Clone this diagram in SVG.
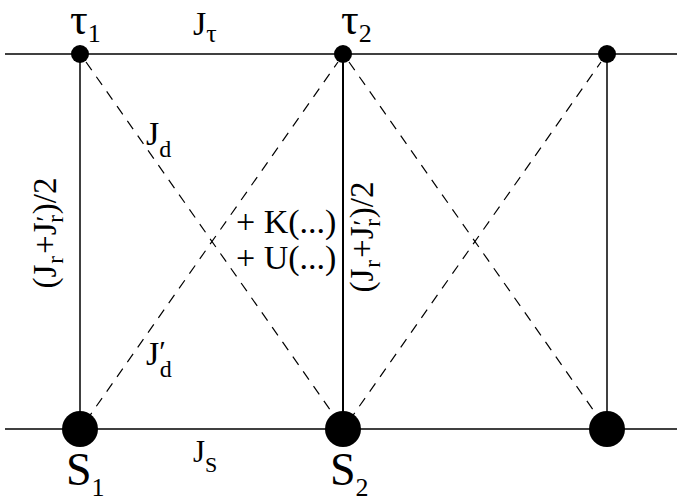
<svg xmlns="http://www.w3.org/2000/svg" width="677" height="503" viewBox="0 0 677 503">
<style>
.ln{stroke:#000;stroke-width:1.5;fill:none}
.ds{stroke:#000;stroke-width:1.2;stroke-dasharray:10,8;fill:none}
text{font-family:'Liberation Serif','DejaVu Serif',serif;fill:#000}
.nd{fill:#000}
</style>
<rect width="677" height="503" fill="#fff"/>
<g id="connectors">
<line class="ln" x1="5" y1="54" x2="677" y2="54"/>
<line class="ln" x1="5" y1="429" x2="677" y2="429"/>
<line class="ln" x1="80" y1="54" x2="80" y2="429"/>
<line class="ln" x1="343" y1="54" x2="343" y2="429" style="stroke-width:2"/>
<line class="ln" x1="607" y1="54" x2="607" y2="429"/>
<line class="ds" x1="86" y1="62" x2="338" y2="421"/>
<line class="ds" x1="86" y1="421" x2="338" y2="62"/>
<line class="ds" x1="349" y1="62" x2="601" y2="421"/>
<line class="ds" x1="349" y1="421" x2="601" y2="62"/>
</g>
<g id="tau1"><circle class="nd" cx="80" cy="54" r="9"/><text x="70" y="34" font-size="44">τ<tspan font-size="26" dy="8">1</tspan></text></g>
<g id="tau2"><circle class="nd" cx="343" cy="54" r="9"/><text x="341" y="34" font-size="44">τ<tspan font-size="26" dy="8">2</tspan></text></g>
<g id="tau3"><circle class="nd" cx="607" cy="54" r="9"/></g>
<g id="S1"><circle class="nd" cx="80" cy="429" r="18"/><text x="66" y="485" font-size="46">S<tspan font-size="26" dy="11">1</tspan></text></g>
<g id="S2"><circle class="nd" cx="343" cy="429" r="18"/><text x="330" y="485" font-size="46">S<tspan font-size="26" dy="11">2</tspan></text></g>
<g id="S3"><circle class="nd" cx="607" cy="429" r="18"/></g>
<g id="labels">
<text x="193" y="35" font-size="34">J<tspan font-size="26" dy="7">τ</tspan></text>
<text x="193" y="462" font-size="31">J<tspan font-size="22" dy="10">S</tspan></text>
<text x="146" y="145" font-size="34">J<tspan font-size="24" dy="12">d</tspan></text>
<text x="146" y="365" font-size="34">J<tspan font-size="30" dy="-4">′</tspan><tspan font-size="24" dx="-6" dy="16">d</tspan></text>
<text x="236" y="233" font-size="34">+ K(...)</text>
<text x="236" y="269" font-size="34">+ U(...)</text>
<text transform="translate(56,233) rotate(-90)" text-anchor="middle" font-size="33">(J<tspan font-size="23" dx="1" dy="7">r</tspan><tspan dx="2" dy="-7">+J</tspan><tspan font-size="26" dx="1" dy="-2">′</tspan><tspan font-size="23" dx="-7" dy="9">r</tspan><tspan dx="1" dy="-7">)/2</tspan></text>
<text transform="translate(373,237) rotate(-90)" text-anchor="middle" font-size="33">(J<tspan font-size="23" dx="1" dy="7">r</tspan><tspan dx="2" dy="-7">+J</tspan><tspan font-size="26" dx="1" dy="-2">′</tspan><tspan font-size="23" dx="-7" dy="9">r</tspan><tspan dx="1" dy="-7">)/2</tspan></text>
</g>
</svg>
